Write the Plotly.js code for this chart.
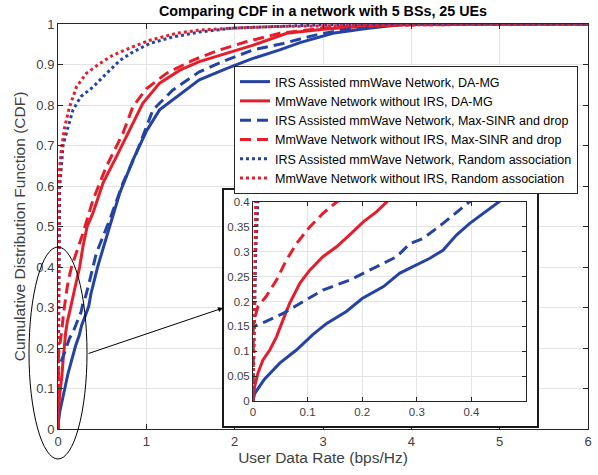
<!DOCTYPE html>
<html><head><meta charset="utf-8">
<script src="https://cdn.plot.ly/plotly-3.0.1.min.js"></script>
<style>html,body{margin:0;padding:0;background:#fff}#chart{width:598px;height:475px}</style>
</head><body><div id="chart"></div>
<script>
// ---- data ----
const titleText = 'Comparing CDF in a network with 5 BSs, 25 UEs';
const xLabel = 'User Data Rate (bps/Hz)';
const yLabel = 'Cumulative Distribution Function (CDF)';

const names = [
  'IRS Assisted mmWave Network, DA-MG',
  'MmWave Network without IRS, DA-MG',
  'IRS Assisted mmWave Network, Max-SINR and drop',
  'MmWave Network without IRS, Max-SINR and drop',
  'IRS Assisted mmWave Network, Random association',
  'MmWave Network without IRS, Random association'
];

const irsDaX = [0, 0.003, 0.021, 0.049, 0.08, 0.11, 0.135, 0.171, 0.2, 0.239, 0.269, 0.294, 0.324, 0.348, 0.373, 0.397, 0.421, 0.449, 0.471, 0.584, 0.698, 0.848, 0.924, 1.0, 1.15, 1.34, 1.6, 1.906, 2.207, 2.51, 2.74, 3.11, 3.49, 3.87, 4.4, 6];
const irsDaY = [0, 0.015, 0.044, 0.076, 0.103, 0.134, 0.156, 0.18, 0.206, 0.23, 0.257, 0.271, 0.287, 0.303, 0.334, 0.357, 0.377, 0.4, 0.417, 0.5, 0.582, 0.664, 0.701, 0.735, 0.788, 0.82, 0.862, 0.89, 0.915, 0.936, 0.954, 0.977, 0.989, 0.998, 1, 1];

const noIrsDaX = [0, 0.003, 0.009, 0.018, 0.031, 0.043, 0.055, 0.067, 0.086, 0.104, 0.128, 0.153, 0.177, 0.202, 0.226, 0.245, 0.282, 0.33, 0.395, 0.471, 0.509, 0.66, 0.848, 0.96, 1.15, 1.38, 1.6, 1.9, 2.21, 2.59, 3.0, 3.5, 4.0, 4.6, 6];
const noIrsDaY = [0, 0.029, 0.056, 0.082, 0.103, 0.129, 0.163, 0.196, 0.237, 0.263, 0.29, 0.31, 0.334, 0.36, 0.38, 0.4, 0.45, 0.5, 0.533, 0.582, 0.607, 0.672, 0.755, 0.804, 0.854, 0.886, 0.907, 0.928, 0.948, 0.977, 0.987, 0.995, 0.999, 1, 1];

const irsMsX = [0, 0, 0.024, 0.055, 0.086, 0.128, 0.177, 0.226, 0.263, 0.287, 0.312, 0.348, 0.397, 0.434, 0.584, 0.735, 0.886, 1.075, 1.3, 1.6, 1.906, 2.21, 2.55, 2.9, 3.3, 3.68, 4.2, 6];
const irsMsY = [0, 0.149, 0.16, 0.176, 0.196, 0.223, 0.243, 0.27, 0.29, 0.316, 0.327, 0.357, 0.4, 0.434, 0.516, 0.607, 0.681, 0.788, 0.837, 0.882, 0.911, 0.936, 0.952, 0.972, 0.989, 0.998, 1, 1];

const noIrsMsX = [0, 0, 0.004, 0.009, 0.024, 0.043, 0.061, 0.08, 0.104, 0.128, 0.153, 0.282, 0.395, 0.547, 0.735, 0.848, 1.0, 1.227, 1.53, 1.83, 2.13, 2.51, 3.0, 3.5, 4.0, 5.4, 6];
const noIrsMsY = [0, 0.15, 0.17, 0.19, 0.21, 0.243, 0.283, 0.317, 0.35, 0.377, 0.4, 0.483, 0.565, 0.648, 0.73, 0.796, 0.84, 0.878, 0.911, 0.936, 0.956, 0.977, 0.99, 0.996, 0.998, 1, 1];

const irsRaX = [0, 0.002, 0.005, 0.009, 0.014, 0.019, 0.038, 0.057, 0.113, 0.17, 0.26, 0.4, 0.55, 0.7, 0.85, 1.04, 1.3, 1.6, 1.98, 2.5, 3.0, 3.8, 6];
const irsRaY = [0, 0.1, 0.3, 0.4, 0.5, 0.598, 0.647, 0.7, 0.745, 0.788, 0.821, 0.845, 0.878, 0.91, 0.931, 0.952, 0.968, 0.98, 0.99, 0.995, 0.998, 1, 1];

const noIrsRaX = [0, 0.001, 0.003, 0.005, 0.008, 0.011, 0.019, 0.038, 0.075, 0.13, 0.21, 0.32, 0.47, 0.62, 0.85, 1.04, 1.34, 1.6, 2.0, 2.5, 3.5, 4.5, 5.5, 6];
const noIrsRaY = [0, 0.1, 0.3, 0.4, 0.5, 0.598, 0.647, 0.689, 0.745, 0.795, 0.845, 0.878, 0.902, 0.923, 0.944, 0.96, 0.977, 0.985, 0.99, 0.994, 0.997, 0.999, 1, 1];

const mainXTicks = [0, 1, 2, 3, 4, 5, 6];
const mainYTicks = [0, 0.1, 0.2, 0.3, 0.4, 0.5, 0.6, 0.7, 0.8, 0.9, 1];
const insetXTicks = [0, 0.1, 0.2, 0.3, 0.4];
const insetYTicks = [0, 0.05, 0.1, 0.15, 0.2, 0.25, 0.3, 0.35, 0.4];

// ---- styling ----
const BLUE = '#2443a3';
const RED = '#e61e2b';
const FONT = 'Liberation Sans, Arial, Helvetica, sans-serif';
const AX = '#262626';
const TXT = '#404040';

const seriesX = [irsDaX, noIrsDaX, irsMsX, noIrsMsX, irsRaX, noIrsRaX];
const seriesY = [irsDaY, noIrsDaY, irsMsY, noIrsMsY, irsRaY, noIrsRaY];
const colors = [BLUE, RED, BLUE, RED, BLUE, RED];
const dashes = ['solid', 'solid', '11px,6px', '11px,6px', '3px,3px', '3px,3px'];
const widths = [3, 3, 3, 3, 3, 3];

const traces = [];
for (let i = 0; i < 6; i++) {
  traces.push({
    type: 'scatter', mode: 'lines', name: names[i],
    x: seriesX[i], y: seriesY[i], xaxis: 'x', yaxis: 'y',
    line: {color: colors[i], dash: dashes[i], width: widths[i]},
    hoverinfo: 'skip'
  });
}
// empty trace creating the white framed panel behind the inset
traces.push({type: 'scatter', mode: 'lines', x: [], y: [], xaxis: 'x2', yaxis: 'y2', showlegend: false, hoverinfo: 'skip'});
for (let i = 0; i < 6; i++) {
  traces.push({
    type: 'scatter', mode: 'lines', name: names[i], showlegend: false,
    x: seriesX[i], y: seriesY[i], xaxis: 'x3', yaxis: 'y3',
    line: {color: colors[i], dash: dashes[i], width: widths[i]},
    hoverinfo: 'skip'
  });
}

const W = 598, H = 475;
const L = 58, R = 10, T = 24, B = 46;
const pw = W - L - R, ph = H - T - B;
const px = v => (v - L) / pw;           // pixel x -> paper x
const py = v => (H - B - v) / ph;       // pixel y -> paper y

const baseAxis = {
  ticks: 'inside', tickcolor: AX, tickwidth: 1,
  showline: true, linecolor: AX, linewidth: 1, mirror: 'ticks',
  showgrid: true, gridcolor: '#e3e3e3', gridwidth: 1, zeroline: false,
  fixedrange: true
};

const layout = {
  width: W, height: H,
  margin: {l: L, r: R, t: T, b: B, pad: 0},
  paper_bgcolor: '#ffffff', plot_bgcolor: '#ffffff',
  font: {family: FONT, color: TXT, size: 12},
  title: {text: titleText, x: 0.5, xref: 'paper', xanchor: 'center', y: 1 - 11 / H, yanchor: 'middle',
          font: {family: FONT, size: 14.3, color: '#000', weight: 'bold'}},
  showlegend: true,
  legend: {x: px(234), y: py(66), xanchor: 'left', yanchor: 'top',
           bgcolor: '#ffffff', bordercolor: AX, borderwidth: 1,
           font: {family: FONT, size: 12.5, color: '#000'}},
  xaxis: Object.assign({}, baseAxis, {
    domain: [0, 1], anchor: 'y', range: [0, 6], tickvals: mainXTicks, ticklen: 5,
    tickfont: {size: 13, color: TXT},
    title: {text: xLabel, font: {size: 15.5, color: TXT}, standoff: 3}
  }),
  yaxis: Object.assign({}, baseAxis, {
    domain: [0, 1], anchor: 'x', range: [0, 1], tickvals: mainYTicks, ticklen: 5,
    tickfont: {size: 13, color: TXT},
    title: {text: yLabel, font: {size: 15.5, color: TXT}, standoff: 6}
  }),
  xaxis2: {domain: [px(224), px(537)], anchor: 'y2', range: [0, 1], showgrid: false, zeroline: false,
           showticklabels: false, ticks: '', showline: true, linecolor: '#1a1a1a', linewidth: 2, mirror: true, fixedrange: true},
  yaxis2: {domain: [py(426), py(190)], anchor: 'x2', range: [0, 1], showgrid: false, zeroline: false,
           showticklabels: false, ticks: '', showline: true, linecolor: '#1a1a1a', linewidth: 2, mirror: true, fixedrange: true},
  xaxis3: Object.assign({}, baseAxis, {
    domain: [px(253), px(526)], anchor: 'y3', range: [0, 0.5], tickvals: insetXTicks, ticklen: 4,
    tickfont: {size: 11.5, color: TXT}
  }),
  yaxis3: Object.assign({}, baseAxis, {
    domain: [py(401), py(202)], anchor: 'x3', range: [0, 0.4], tickvals: insetYTicks, ticklen: 4,
    tickfont: {size: 11.5, color: TXT}
  }),
  shapes: [
    {type: 'circle', xref: 'paper', yref: 'paper', x0: px(29), x1: px(87), y0: py(459), y1: py(247),
     line: {color: '#000', width: 1}, fillcolor: 'rgba(0,0,0,0)', layer: 'above'}
  ],
  annotations: [
    {xref: 'paper', yref: 'paper', x: px(223), y: py(308), text: '', showarrow: true,
     ax: 87 - 223, ay: 354 - 308, arrowhead: 2, arrowsize: 1, arrowwidth: 1, arrowcolor: '#000'}
  ]
};

Plotly.newPlot('chart', traces, layout, {displayModeBar: false, staticPlot: true});
</script>
</body></html>
